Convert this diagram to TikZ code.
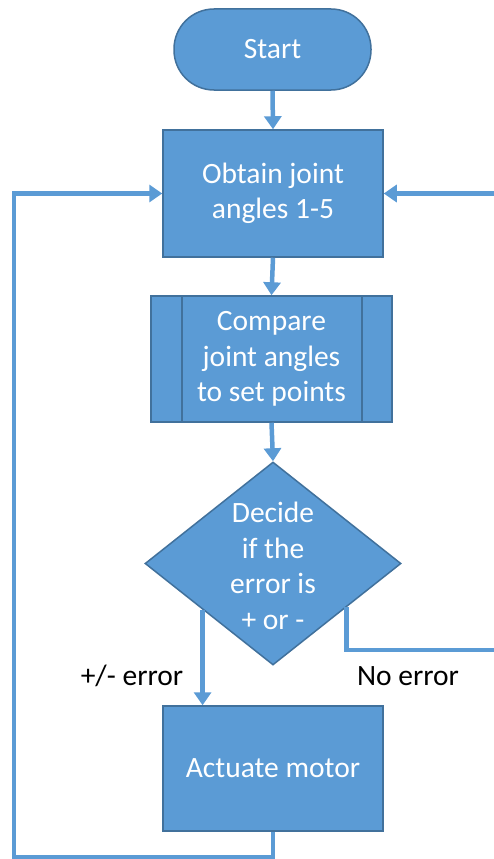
\documentclass[tikz,border=0pt]{standalone}
\usepackage{fontspec}
\setmainfont{Carlito}
\usetikzlibrary{shapes.geometric,arrows.meta,calc}
\definecolor{boxfill}{HTML}{5B9BD5}
\definecolor{boxline}{HTML}{41719C}
\begin{document}
\begin{tikzpicture}[x=1pt,y=-1pt,
  box/.style={draw=boxline,line width=1.5pt,fill=boxfill,text=white,align=center,
    inner sep=0pt,font=\fontsize{29.5}{35.5}\selectfont},
  conn/.style={draw=boxfill,line width=4.5pt,line join=miter},
  arr/.style={conn,-{Triangle[width=17pt,length=13pt]}},
  lbl/.style={font=\fontsize{29.5}{35.5}\selectfont,text=black,inner sep=0pt}]
\clip (0,0) rectangle (494,859);
\fill[white] (0,0) rectangle (494,859);
% nodes
\node[box,rounded corners=40pt,minimum width=197pt,minimum height=81pt] (start) at (272.5,49.5) {Start};
\node[box,minimum width=220pt,minimum height=127pt] (obtain) at (273,193.5) {Obtain joint\\angles 1-5};
\node[box,minimum width=241pt,minimum height=126pt] (compare) at (271.5,359) {Compare\\joint angles\\to set points};
\draw[boxline,line width=1.5pt] (182,296) -- (182,422) (362,296) -- (362,422);
\node[box,diamond,minimum width=256pt,minimum height=203pt] (dec) at (273,563.5) {};
\node[text=white,align=center,inner sep=0pt,font=\fontsize{29.5}{35.5}\selectfont] (dectext) at (273,566) {Decide\\if the\\error is\\+ or -};
\node[box,minimum width=220pt,minimum height=125pt] (act) at (273,768.5) {Actuate motor};
\node[lbl] (lerr) at (132,676) {+/- error};
\node[lbl] (lno) at (408,676) {No error};
% connectors
\draw[arr] (start.south) -- (obtain.north);
\draw[arr] (obtain.south) -- (compare.north);
\draw[arr] (compare.south) -- (dec.north);
\coordinate (p1) at ($(dec.west)!0.453!(dec.south)$);
\coordinate (p2) at ($(dec.east)!0.43!(dec.south)$);
\draw[arr] (p1) -- (p1 |- act.north);
\coordinate (r1) at (499,650);
\coordinate (l1) at (14,857);
\draw[arr] (p2) |- (r1) |- (obtain.east);
\draw[arr] (act.south) |- (l1) |- (obtain.west);
\end{tikzpicture}
\end{document}
